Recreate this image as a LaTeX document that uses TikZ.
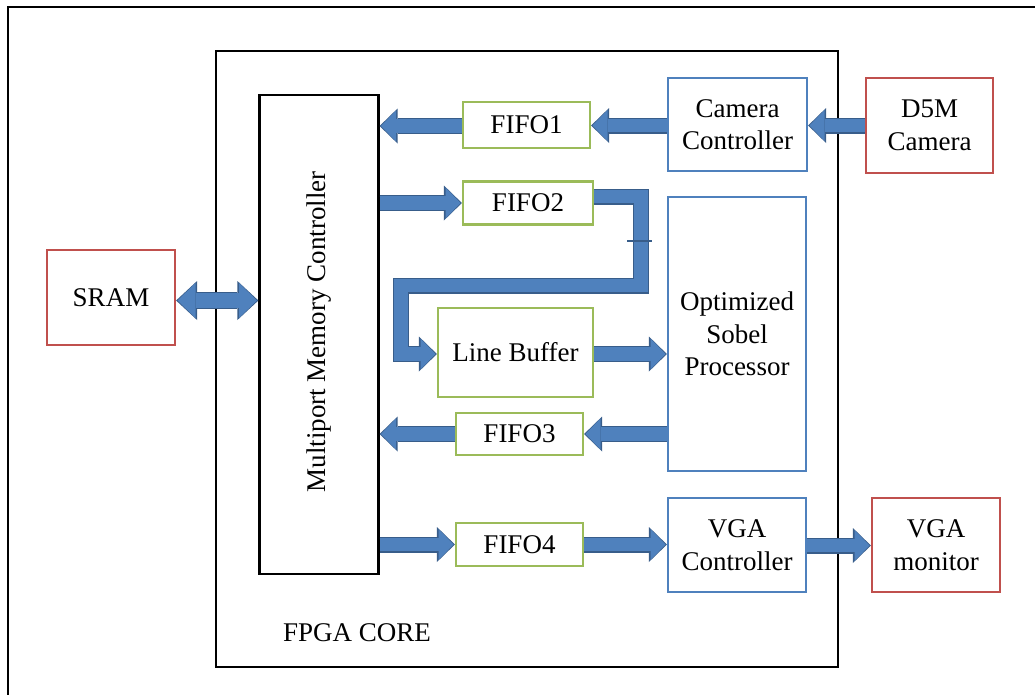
\documentclass[tikz,border=0pt]{standalone}
\usepackage{fontspec}
\setmainfont{Liberation Serif}
\usetikzlibrary{arrows.meta,calc}
\definecolor{ablue}{HTML}{4F81BD}
\definecolor{adark}{HTML}{385D8A}
\definecolor{bred}{HTML}{C0504D}
\definecolor{bgreen}{HTML}{9BBB59}
\definecolor{bblue}{HTML}{4F81BD}
\tikzset{
  box/.style={draw, rectangle, inner sep=0pt, line width=2.2pt, fill=white, align=center,
    font=\fontsize{27}{32.5}\selectfont},
  redbox/.style={box, draw=bred},
  greenbox/.style={box, draw=bgreen},
  bluebox/.style={box, draw=bblue},
  blackbox/.style={box, draw=black, line width=2.5pt},
  barrow/.style={line width=13.5pt, draw=ablue, line join=miter,
    -{Triangle[width=31pt,length=15pt,line width=0pt]}, shorten >=1.4pt,
    preaction={draw=adark, line width=16pt, line join=miter,
      -{Triangle[width=35pt,length=18pt,line width=0pt]}, shorten >=0pt}},
  dbarrow/.style={line width=15pt, draw=ablue, line join=miter,
    {Triangle[width=35pt,length=18pt,line width=0pt]}-{Triangle[width=35pt,length=18pt,line width=0pt]},
    shorten >=1.4pt, shorten <=1.4pt,
    preaction={draw=adark, line width=17.6pt, line join=miter,
      {Triangle[width=39pt,length=21pt,line width=0pt]}-{Triangle[width=39pt,length=21pt,line width=0pt]},
      shorten >=0pt, shorten <=0pt}},
  lbl/.style={font=\fontsize{27}{32.5}\selectfont, inner sep=0pt}
}
\begin{document}
\begin{tikzpicture}[x=1pt,y=-1pt]
\useasboundingbox (0,0) rectangle (1035,694);
% outer frame (cut by the page on the right and bottom)
\draw[line width=2.5pt] (1040,7) -- (8,7) -- (8,700);
% FPGA core
\node[blackbox, minimum width=622pt, minimum height=616pt] (fpga) at (527,359) {};
\node[lbl] (fpgalbl) at (357,633) {FPGA CORE};
% outside blocks
\node[redbox, minimum width=128pt, minimum height=95pt] (sram) at (111,297.5) {SRAM};
\node[redbox, minimum width=127pt, minimum height=95pt] (d5m) at (929.5,125.5) {D5M\\Camera};
\node[redbox, minimum width=128pt, minimum height=94pt] (vgamon) at (936,545) {VGA\\monitor};
% controllers
\node[bluebox, minimum width=139pt, minimum height=93pt] (cam) at (737.5,124.5) {Camera\\Controller};
\node[bluebox, minimum width=138pt, minimum height=274pt] (sobel) at (737,334) {Optimized\\Sobel\\Processor};
\node[bluebox, minimum width=138pt, minimum height=94pt] (vgac) at (737,545) {VGA\\Controller};
% FIFOs
\node[greenbox, minimum width=127pt, minimum height=46pt] (fifo1) at (526.5,125) {FIFO1};
\node[greenbox, minimum width=130pt, minimum height=43pt] (fifo2) at (528,203) {FIFO2};
\node[greenbox, minimum width=155pt, minimum height=89pt] (lb) at (515.5,352.5) {Line Buffer};
\node[greenbox, minimum width=127pt, minimum height=42pt] (fifo3) at (519.5,434) {FIFO3};
\node[greenbox, minimum width=127pt, minimum height=43pt] (fifo4) at (519.5,544.5) {FIFO4};
% memory controller
\node[blackbox, line width=2.2pt, minimum width=119pt, minimum height=479pt] (mmc) at (319,334.5) {};
\node[lbl, rotate=90] (mmclbl) at (319,332) {Multiport Memory Controller};
% arrows
\draw[barrow] (d5m.west) -- (d5m.west -| cam.east);
\draw[barrow] ([yshift=-1pt]cam.west) -- ([yshift=-1pt]cam.west -| fifo1.east);
\draw[barrow] ([yshift=-1pt]fifo1.west) -- ([yshift=-1pt]fifo1.west -| mmc.east);
\draw[barrow] (fifo2.west -| mmc.east) -- (fifo2.west);
\draw[barrow] ([yshift=6.5pt]fifo2.east) -- ++(47,0) |- (401,285.5) |- ([yshift=-1.5pt]lb.west);
\draw[adark, line width=1.3pt] (627,241) -- (652,241);
\draw[barrow] ([yshift=-1.5pt]lb.east) -- ([yshift=-1.5pt]lb.east -| sobel.west);
\draw[barrow] (fifo3.east -| sobel.west) -- (fifo3.east);
\draw[barrow] (fifo3.west) -- (fifo3.west -| mmc.east);
\draw[dbarrow] ([yshift=-3pt]sram.east) -- ([yshift=-3pt]sram.east -| mmc.west);
\draw[barrow] (fifo4.west -| mmc.east) -- (fifo4.west);
\draw[barrow] (fifo4.east) -- (fifo4.east -| vgac.west);
\draw[barrow] ([yshift=-0.5pt]vgac.east) -- ([yshift=-0.5pt]vgac.east -| vgamon.west);
\end{tikzpicture}
\end{document}
